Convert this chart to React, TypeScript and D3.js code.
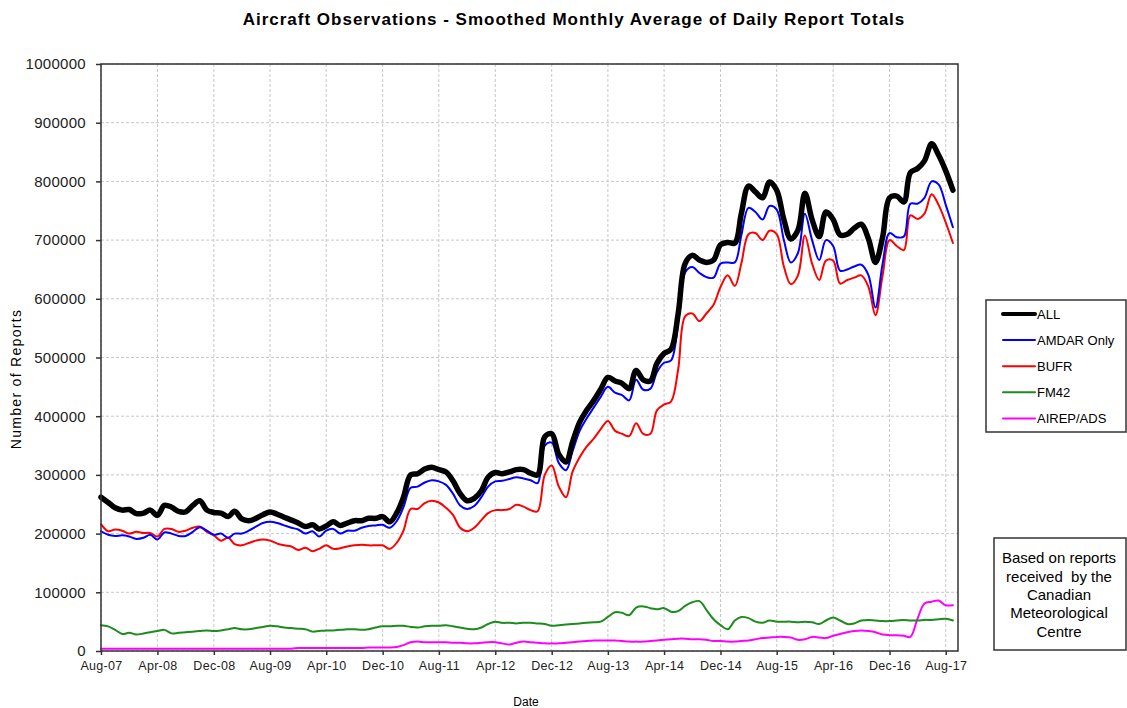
import React, { useEffect, useRef } from "react";
import * as d3 from "d3";

// values in thousands of reports, one per month from Aug-07
const allObs = [
  262, 253, 244, 240, 241, 234, 235, 240, 231, 248,
  245, 238, 237, 248, 256, 240, 236, 235, 229, 238,
  225, 222, 226, 232, 237, 233, 228, 223, 218, 212,
  215, 208, 213, 220, 214, 218, 222, 222, 226, 226,
  229, 220, 236, 262, 300, 302, 310, 313, 309, 305,
  290, 268, 256, 260, 273, 296, 304, 302, 305, 309,
  309, 303, 300, 365, 370, 335, 322, 356, 390, 410,
  427, 446, 466, 460, 456, 447, 478, 462, 460, 490,
  507, 514, 575, 660, 674, 666, 662, 666, 692, 696,
  695, 745, 792, 782, 772, 799, 785, 735, 702, 717,
  780, 735, 706, 748, 735, 709, 710, 720, 727, 702,
  662, 705, 772, 775, 765, 815, 822, 835, 864, 845, 818, 785,
];

const amdarOnly = [
  204, 198, 196, 197, 195, 191, 193, 198, 190, 202,
  200, 196, 196, 203, 211, 205, 198, 200, 193, 200,
  200, 205, 212, 218, 220, 218, 214, 210, 207, 200,
  204, 195, 205, 208, 200, 205, 205, 210, 213, 214,
  215, 210, 222, 245, 278, 280, 287, 291, 289, 283,
  268, 248, 242, 247, 262, 280, 289, 290, 293, 296,
  294, 291, 286, 350, 355, 320, 308, 340, 375, 396,
  415, 433, 450, 440, 436, 427, 462, 445, 447, 475,
  491, 495, 560, 645, 654, 644, 637, 636, 660, 662,
  662, 708, 755, 748, 735, 758, 752, 700, 662, 678,
  745, 700, 666, 700, 690, 648, 650, 655, 658, 640,
  585, 660, 712, 705, 706, 762, 762, 772, 800, 795, 760, 722,
];

const bufr = [
  216, 204, 207, 205, 200, 203, 201, 201, 195, 208,
  208, 203, 205, 210, 212, 203, 197, 188, 193, 182,
  180, 184, 188, 190, 188, 183, 180, 178, 172, 176,
  170, 174, 180, 174, 175, 178, 180, 181, 180, 180,
  180, 174, 185, 205, 242, 242, 252, 256, 253, 244,
  232, 210, 204, 210, 223, 235, 240, 240, 242, 249,
  246, 240, 238, 300, 316, 280, 262, 305, 330, 348,
  362, 378, 392, 375, 370, 366, 388, 370, 370, 410,
  420, 425, 480, 570, 575, 562, 575, 590, 620, 640,
  622, 660, 710, 712, 700, 716, 710, 655, 625, 640,
  708, 660, 632, 665, 665, 626, 632, 636, 640, 620,
  572, 640, 700, 690, 683, 742, 736, 745, 778, 760, 730, 695,
];

const fm42 = [
  44, 42, 36, 29, 31, 28, 30, 32, 34, 36,
  30, 31, 32, 33, 34, 35, 34, 35, 37, 39,
  37, 37, 39, 41, 43, 42, 40, 39, 38, 37,
  33, 34, 35, 35, 36, 37, 37, 36, 37, 40,
  42, 42, 43, 43, 41, 40, 42, 43, 43, 44,
  42, 40, 38, 37, 40, 46, 50, 48, 48, 47,
  48, 48, 47, 46, 43, 44, 45, 46, 47, 48,
  49, 50, 58, 66, 65, 61, 74, 76, 73, 71,
  73, 67, 68, 77, 83, 85, 70, 54, 44, 37,
  52, 58, 56, 50, 48, 52, 50, 50, 50, 49,
  50, 49, 46, 52, 57, 52, 46, 47, 52, 53,
  52, 51, 51, 52, 53, 52, 52, 53, 53, 54, 55, 52,
];

const airepAds = [
  4, 4, 4, 4, 4, 4, 4, 4, 4, 4,
  4, 4, 4, 4, 4, 4, 4, 4, 4, 4,
  4, 4, 4, 4, 4, 4, 4, 4, 5, 5,
  5, 5, 5, 5, 5, 5, 5, 5, 6, 6,
  6, 6, 7, 10, 15, 16, 15, 15, 15, 15,
  14, 14, 13, 13, 14, 15, 15, 13, 11, 14,
  16, 15, 14, 13, 13, 13, 14, 15, 16, 17,
  18, 18, 18, 18, 17, 16, 16, 16, 17, 18,
  19, 20, 21, 21, 20, 20, 19, 17, 17, 16,
  16, 17, 18, 20, 22, 23, 24, 24, 23, 19,
  20, 24, 23, 22, 26, 29, 32, 34, 35, 34,
  32, 28, 27, 27, 26, 24, 55, 81, 84, 86, 78, 78,
];

const tickLabels = [
  "Aug-07", "Apr-08", "Dec-08", "Aug-09", "Apr-10", "Dec-10", "Aug-11", "Apr-12",
  "Dec-12", "Aug-13", "Apr-14", "Dec-14", "Aug-15", "Apr-16", "Dec-16", "Aug-17",
];

const seriesNames = ["ALL", "AMDAR Only", "BUFR", "FM42", "AIREP/ADS"];
const seriesValues = [allObs, amdarOnly, bufr, fm42, airepAds];
const seriesColors = ["#000000", "#0000ff", "#ff0000", "#1c8c1c", "#ff00ff"];
const seriesWidths = [5.5, 2, 2, 2, 2];

const noteLines = ["Based on reports", "received  by the", "Canadian", "Meteorological", "Centre"];

const FONT = "Arial, 'Liberation Sans', sans-serif";

const width = 1127;
const height = 708;
const margin = { top: 64, right: 169, bottom: 57, left: 101 };

const start = new Date(2007, 7, 1);
const parseTick = d3.timeParse("%b-%y");
const tickDates = tickLabels.map((t) => parseTick(t));

const x = d3
  .scaleTime()
  .domain([start, new Date(2017, 8, 23)])
  .range([margin.left, width - margin.right]);

const y = d3
  .scaleLinear()
  .domain([0, 1000000])
  .range([height - margin.bottom, margin.top]);

const line = d3
  .line()
  .x((d, i) => x(d3.timeMonth.offset(start, i)))
  .y((d) => y(d * 1000))
  .curve(d3.curveCatmullRom.alpha(0.5));

const App = () => {
  const xAxisRef = useRef(null);
  const yAxisRef = useRef(null);

  useEffect(() => {
    document.body.style.margin = "0";

    const yAxis = d3
      .select(yAxisRef.current)
      .call(d3.axisLeft(y).ticks(10).tickFormat(d3.format("d")).tickSize(5).tickPadding(10));
    yAxis
      .selectAll("text")
      .style("font-size", "15px")
      .style("letter-spacing", "0.3px")
      .style("fill", "#222")
      .style("font-family", FONT);

    const xAxis = d3
      .select(xAxisRef.current)
      .call(
        d3
          .axisBottom(x)
          .tickValues(tickDates)
          .tickFormat((d, i) => tickLabels[i])
          .tickSize(4)
          .tickPadding(6)
      );
    xAxis
      .selectAll("text")
      .style("font-size", "12.5px")
      .style("letter-spacing", "0.3px")
      .style("fill", "#222")
      .style("font-family", FONT);

    d3.selectAll(".axis .domain").remove();
    d3.selectAll(".axis .tick line").attr("stroke", "#333").attr("stroke-width", 1.5);
  }, []);

  const plotW = width - margin.left - margin.right;
  const plotH = height - margin.top - margin.bottom;

  return (
    <svg width={width} height={height} style={{ display: "block", background: "#fff", fontFamily: FONT }}>
      {y.ticks(10).map((t) => (
        <line
          key={"h" + t}
          x1={margin.left}
          x2={width - margin.right}
          y1={y(t)}
          y2={y(t)}
          stroke="#c8c8c8"
          strokeDasharray="3,2"
        />
      ))}
      {tickDates.map((d, i) => (
        <line
          key={"v" + i}
          x1={x(d)}
          x2={x(d)}
          y1={margin.top}
          y2={height - margin.bottom}
          stroke="#c8c8c8"
          strokeDasharray="3,2"
        />
      ))}

      {[4, 3, 2, 1, 0].map((k) => (
        <path
          key={seriesNames[k]}
          d={line(seriesValues[k])}
          fill="none"
          stroke={seriesColors[k]}
          strokeWidth={seriesWidths[k]}
          strokeLinejoin="round"
          strokeLinecap="round"
        />
      ))}

      <rect x={margin.left} y={margin.top} width={plotW} height={plotH} fill="none" stroke="#333" strokeWidth={1.5} />

      <g className="axis" ref={yAxisRef} transform={`translate(${margin.left}, 0)`} />
      <g className="axis" ref={xAxisRef} transform={`translate(0, ${height - margin.bottom})`} />

      <text x={574} y={25} textAnchor="middle" fontSize={17} fontWeight="bold" letterSpacing={1}>
        Aircraft Observations - Smoothed Monthly Average of Daily Report Totals
      </text>
      <text transform="translate(21, 379) rotate(-90)" textAnchor="middle" fontSize={14} letterSpacing={1.3}>
        Number of Reports
      </text>
      <text x={526} y={706} textAnchor="middle" fontSize={12}>
        Date
      </text>

      <rect x={986} y={300} width={140} height={132} fill="#fff" stroke="#333" strokeWidth={1.5} />
      {seriesNames.map((name, i) => (
        <g key={name} transform={`translate(1003, ${314 + i * 26.1})`}>
          <line x1={0} x2={32} stroke={seriesColors[i]} strokeWidth={i === 0 ? 4 : 2} strokeLinecap="round" />
          <text x={34} dy="0.35em" fontSize={13}>
            {name}
          </text>
        </g>
      ))}

      <rect x={994} y={538} width={132} height={112} fill="#fff" stroke="#333" strokeWidth={1.5} />
      {noteLines.map((t, i) => (
        <text
          key={t}
          x={1059}
          y={558 + i * 18.4}
          dy="0.35em"
          textAnchor="middle"
          fontSize={15}
          style={{ whiteSpace: "pre" }}
        >
          {t}
        </text>
      ))}
    </svg>
  );
};

export default App;
